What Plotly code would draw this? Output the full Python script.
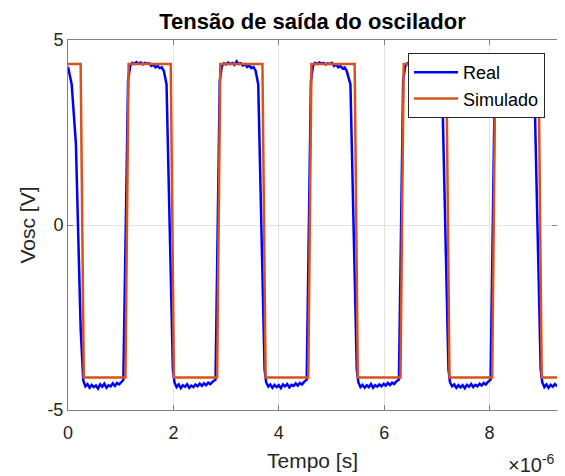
import plotly.graph_objects as go

# ---- data (time in units of 1e-6 s, voltage in V) ----
t_real = [
    0.00, 0.03, 0.07, 0.15, 0.24, 0.29,
    0.33, 0.37, 0.41, 0.45, 0.49, 0.53, 0.57, 0.61, 0.65, 0.69, 0.73, 0.77, 0.81, 0.85, 0.89, 0.93, 0.97, 1.01, 1.05,
    1.14, 1.18,
    1.22, 1.26, 1.30, 1.34, 1.38, 1.42, 1.46, 1.50, 1.54, 1.58, 1.62, 1.66, 1.70, 1.74, 1.78, 1.82,
    1.87, 1.99, 2.02,
    2.06, 2.10, 2.14, 2.18, 2.22, 2.26, 2.30, 2.34, 2.38, 2.42, 2.46, 2.50, 2.54, 2.58, 2.62, 2.66, 2.70, 2.75, 2.80,
    2.88, 2.92,
    2.96, 3.00, 3.04, 3.08, 3.12, 3.16, 3.20, 3.24, 3.28, 3.32, 3.36, 3.40, 3.44, 3.48, 3.52, 3.56,
    3.61, 3.73, 3.76,
    3.80, 3.84, 3.88, 3.92, 3.96, 4.00, 4.04, 4.08, 4.12, 4.16, 4.20, 4.24, 4.28, 4.32, 4.36, 4.40, 4.44, 4.48, 4.53,
    4.61, 4.65,
    4.69, 4.73, 4.77, 4.81, 4.85, 4.89, 4.93, 4.97, 5.01, 5.05, 5.09, 5.13, 5.17, 5.21, 5.25, 5.29,
    5.36, 5.48, 5.51,
    5.55, 5.59, 5.63, 5.67, 5.71, 5.75, 5.79, 5.83, 5.87, 5.91, 5.95, 5.99, 6.03, 6.07, 6.11, 6.15, 6.19, 6.23, 6.28,
    6.36, 6.40,
    6.44, 6.48, 6.52, 6.56, 6.60, 6.64, 6.68, 6.72, 6.76, 6.80, 6.84, 6.88, 6.92, 6.96, 7.00, 7.04,
    7.10, 7.22, 7.25,
    7.29, 7.33, 7.37, 7.41, 7.45, 7.49, 7.53, 7.57, 7.61, 7.65, 7.69, 7.73, 7.77, 7.81, 7.85, 7.89, 7.93, 7.97, 8.02,
    8.10, 8.14,
    8.18, 8.22, 8.26, 8.30, 8.34, 8.38, 8.42, 8.46, 8.50, 8.54, 8.58, 8.62, 8.66, 8.70, 8.74, 8.78,
    8.85, 8.97, 9.00,
    9.04, 9.08, 9.12, 9.16, 9.20, 9.24, 9.28, 9.30,
]
v_real = [
    4.28, 4.10, 3.80, 2.20, -2.80, -4.20,
    -4.36, -4.30, -4.40, -4.32, -4.38, -4.34, -4.42, -4.31, -4.37, -4.29, -4.40, -4.33, -4.36, -4.28, -4.35, -4.27, -4.31, -4.25, -4.19,
    3.90, 4.30,
    4.38, 4.35, 4.40, 4.36, 4.39, 4.34, 4.38, 4.36, 4.37, 4.30, 4.33, 4.26, 4.30, 4.24, 4.26, 4.16,
    3.80, -3.90, -4.25,
    -4.38, -4.31, -4.41, -4.33, -4.37, -4.30, -4.40, -4.34, -4.38, -4.31, -4.36, -4.29, -4.35, -4.28, -4.33, -4.26, -4.30, -4.23, -4.18,
    3.90, 4.30,
    4.37, 4.34, 4.39, 4.35, 4.38, 4.33, 4.42, 4.35, 4.37, 4.31, 4.35, 4.27, 4.31, 4.24, 4.27, 4.17,
    3.80, -3.90, -4.25,
    -4.37, -4.31, -4.40, -4.32, -4.38, -4.33, -4.41, -4.31, -4.36, -4.30, -4.39, -4.32, -4.35, -4.28, -4.34, -4.27, -4.31, -4.24, -4.18,
    3.90, 4.30,
    4.38, 4.35, 4.39, 4.36, 4.38, 4.34, 4.37, 4.35, 4.38, 4.30, 4.34, 4.26, 4.30, 4.23, 4.26, 4.16,
    3.80, -3.90, -4.25,
    -4.38, -4.32, -4.40, -4.33, -4.38, -4.30, -4.40, -4.33, -4.37, -4.31, -4.36, -4.29, -4.34, -4.27, -4.33, -4.26, -4.30, -4.23, -4.18,
    3.90, 4.30,
    4.37, 4.34, 4.38, 4.35, 4.39, 4.33, 4.37, 4.35, 4.37, 4.30, 4.34, 4.26, 4.30, 4.23, 4.26, 4.17,
    3.80, -3.90, -4.25,
    -4.36, -4.31, -4.40, -4.33, -4.39, -4.33, -4.41, -4.32, -4.37, -4.30, -4.38, -4.32, -4.36, -4.29, -4.34, -4.27, -4.31, -4.24, -4.18,
    3.90, 4.30,
    4.38, 4.34, 4.39, 4.35, 4.38, 4.34, 4.37, 4.35, 4.37, 4.30, 4.34, 4.26, 4.30, 4.23, 4.26, 4.16,
    3.80, -3.90, -4.25,
    -4.38, -4.31, -4.40, -4.32, -4.37, -4.30, -4.35, -4.32,
]

t_sim = [0.00, 0.24, 0.30, 1.09, 1.15, 1.95, 2.01, 2.83, 2.89, 3.69, 3.75, 4.56, 4.62,
         5.44, 5.50, 6.31, 6.37, 7.18, 7.24, 8.05, 8.11, 8.93, 8.99, 9.30]
v_sim = [4.35, 4.35, -4.12, -4.12, 4.35, 4.35, -4.12, -4.12, 4.35, 4.35, -4.12, -4.12, 4.35,
         4.35, -4.12, -4.12, 4.35, 4.35, -4.12, -4.12, 4.35, 4.35, -4.12, -4.12]

x_ticks = [0, 2, 4, 6, 8]
x_ticklabels = ["0", "2", "4", "6", "8"]
y_ticks = [-5, 0, 5]
y_ticklabels = ["-5", "0", "5"]

FONT = "Liberation Sans, Arial, sans-serif"
TXT = "#262626"

# the page body has an 8px margin, so the figure is sized to fit the window
W, H = 557, 468
L, R, T, B = 60, 8, 32, 66

fig = go.Figure()
fig.add_trace(go.Scatter(x=t_real, y=v_real, mode="lines", name="Real",
                         line=dict(color="#0000FF", width=2.5)))
fig.add_trace(go.Scatter(x=t_sim, y=v_sim, mode="lines", name="Simulado",
                         line=dict(color="#D95319", width=2.5)))

axis_common = dict(showline=True, linecolor="#808080", linewidth=1, mirror="ticks",
                   ticks="inside", ticklen=5, tickcolor="#808080",
                   showgrid=True, gridcolor="#e3e3e3", gridwidth=1, zeroline=False,
                   automargin=False,
                   tickfont=dict(family=FONT, size=18, color=TXT))

pw = W - L - R
ph = H - T - B

fig.update_layout(
    width=W, height=H,
    margin=dict(l=L, r=R, t=T, b=B, autoexpand=False),
    paper_bgcolor="white", plot_bgcolor="white",
    font=dict(family=FONT, color=TXT),
    title=dict(text="<b>Tensão de saída do oscilador</b>", x=(L + pw / 2) / W, xanchor="center",
               y=1 - 13 / H, yanchor="middle", yref="container",
               font=dict(family=FONT, size=22, color="#000000")),
    xaxis=dict(range=[0, 9.28], tickvals=x_ticks, ticktext=x_ticklabels,
               title=dict(text="Tempo [s]", font=dict(family=FONT, size=21, color=TXT), standoff=11),
               ticklabelstandoff=6, **axis_common),
    yaxis=dict(range=[-5, 5], tickvals=y_ticks, ticktext=y_ticklabels,
               title=dict(text="Vosc [V]", font=dict(family=FONT, size=21, color=TXT), standoff=6),
               ticklabelstandoff=0, **axis_common),
    legend=dict(x=(pw - 12) / pw, y=1 - 13 / ph, xanchor="right", yanchor="top",
                bgcolor="white", bordercolor="#262626", borderwidth=1,
                font=dict(family=FONT, size=18, color="#000000"),
                itemwidth=44, tracegroupgap=0),
    showlegend=True,
    annotations=[dict(text="×10<sup>-6</sup>", xref="paper", yref="paper",
                      x=1.0, y=0, xanchor="right", yanchor="middle", yshift=-53,
                      showarrow=False, font=dict(family=FONT, size=20, color=TXT))],
)

fig.write_html("out.html")
